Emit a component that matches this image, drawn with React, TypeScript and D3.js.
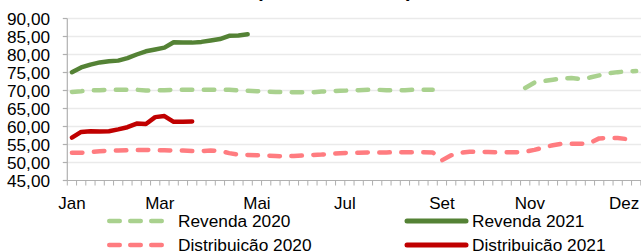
import React from "react";
import * as d3 from "d3";

const N = 62;
const NA = null;

const revenda2020: (number | null)[] = [
  69.6, 69.8, 70.1, 70.1, 70.2, 70.2, 70.2, 70.2, 70.0, 70.0,
  70.1, 70.2, 70.2, 70.2, 70.2, 70.2, 70.2, 70.2, 70.0, 69.9,
  69.8, 69.7, 69.6, 69.6, 69.5, 69.5, 69.5, 69.7, 69.8, 69.9,
  70.0, 70.1, 70.2, 70.2, 70.1, 70.1, 70.1, 70.2, 70.2, 70.2,
  NA, NA, NA, NA, NA, NA, NA, NA, NA, 70.7,
  72.2, 72.6, 73.0, 73.3, 73.5, 73.15, 73.6, 74.2, 74.8, 75.1,
  75.3, 75.4,
];

const revenda2021: number[] = [
  75.1, 76.4, 77.2, 77.8, 78.1, 78.3, 79.0, 80.0, 80.9, 81.4,
  81.9, 83.4, 83.3, 83.3, 83.5, 83.9, 84.3, 85.2, 85.3, 85.6,
];

const distribuicao2020: number[] = [
  52.7, 52.7, 52.9, 53.1, 53.3, 53.3, 53.4, 53.5, 53.5, 53.4,
  53.4, 53.3, 53.3, 53.2, 53.2, 53.3, 53.2, 52.6, 52.2, 52.1,
  52.0, 51.9, 51.8, 51.7, 51.8, 51.95, 52.1, 52.2, 52.4, 52.6,
  52.7, 52.7, 52.8, 52.8, 52.8, 52.85, 52.85, 52.85, 52.85, 52.8,
  50.6, 52.0, 52.7, 53.0, 53.0, 52.9, 52.85, 52.85, 52.85, 53.0,
  53.5, 54.2, 54.8, 55.2, 55.2, 55.2, 55.4, 56.7, 56.85, 56.8,
  56.5, 56.4,
];

const distribuicao2021: number[] = [
  56.9, 58.5, 58.7, 58.6, 58.7, 59.2, 59.8, 60.8, 60.7, 62.6,
  62.9, 61.3, 61.3, 61.4,
];

const yTicks = [45, 50, 55, 60, 65, 70, 75, 80, 85, 90];
const monthLabels = ["Jan", "Mar", "Mai", "Jul", "Set", "Nov", "Dez"];
const monthPos = [0.5, 10, 20.5, 30, 40.5, 50, 60.2];

const legendItems = [
  { name: "Revenda 2020", color: "#A9D18E", dashed: true },
  { name: "Revenda 2021", color: "#548235", dashed: false },
  { name: "Distribuição 2020", color: "#FF7C80", dashed: true },
  { name: "Distribuição 2021", color: "#C00000", dashed: false },
];

const W = 641;
const H = 251;
const FONT = "'Liberation Sans', Arial, sans-serif";

export default function App() {
  const x = d3.scaleLinear().domain([0, N]).range([67.3, 67.3 + N * 9.25]);
  const y = d3.scaleLinear().domain([45, 90]).range([180.5, 18.5]);

  const line = d3
    .line<number | null>()
    .defined((d) => d != null)
    .x((_, i) => x(i + 0.5))
    .y((d) => y(d as number));

  const fmt = (v: number) => v.toFixed(2).replace(".", ",");

  const series = [
    { data: revenda2020, ...legendItems[0] },
    { data: revenda2021, ...legendItems[1] },
    { data: distribuicao2020, ...legendItems[2] },
    { data: distribuicao2021, ...legendItems[3] },
  ];

  const legendX = [107, 404.5];
  const legendY = [221, 245];

  return (
    <div style={{ position: "absolute", left: 0, top: 0, width: W, height: H, background: "#fff" }}>
      <svg width={W} height={H} style={{ display: "block" }} fontFamily={FONT}>
        <rect x={0} y={0} width={W} height={H} fill="#fff" />
        <text x={256} y={-2.6} textAnchor="start" fontSize={20} fontWeight="bold" fill="#000">
          (média semanal)
        </text>
        {/* gridlines */}
        {yTicks.slice(1).map((t) => (
          <line key={t} x1={x(0)} x2={W} y1={y(t)} y2={y(t)} stroke="#EAEAEA" strokeWidth={1.3} />
        ))}
        {/* y axis */}
        <line x1={x(0)} x2={x(0)} y1={y(90)} y2={y(45)} stroke="#B0B0B0" strokeWidth={1.2} />
        {yTicks.map((t) => (
          <g key={t}>
            <line x1={x(0) - 4.5} x2={x(0)} y1={y(t)} y2={y(t)} stroke="#B0B0B0" strokeWidth={1.2} />
            <text x={50} y={y(t) + 6.3} textAnchor="end" fontSize={17.2} fill="#000">
              {fmt(t)}
            </text>
          </g>
        ))}
        {/* x axis */}
        <line x1={x(0)} x2={W} y1={y(45)} y2={y(45)} stroke="#B0B0B0" strokeWidth={1.2} />
        {d3.range(0, N + 1).map((i) => (
          <line key={i} x1={x(i)} x2={x(i)} y1={y(45)} y2={y(45) + 5} stroke="#B0B0B0" strokeWidth={1} />
        ))}
        {monthLabels.map((m, i) => (
          <text key={m} x={x(monthPos[i])} y={209} textAnchor="middle" fontSize={17} fill="#000">
            {m}
          </text>
        ))}
        {/* series */}
        {series.map((s) => (
          <path
            key={s.name}
            d={line(s.data) || ""}
            fill="none"
            stroke={s.color}
            strokeWidth={4.5}
            strokeLinecap="round"
            strokeLinejoin="round"
            strokeDasharray={s.dashed ? "10.5 11.5" : undefined}
          />
        ))}
        {/* legend */}
        {legendItems.map((s, i) => {
          const lx = legendX[i % 2];
          const ly = legendY[Math.floor(i / 2)];
          return (
            <g key={s.name}>
              {s.dashed ? (
                <line x1={lx + 2.25} x2={lx + 54.75} y1={ly} y2={ly} stroke={s.color} strokeWidth={4.5}
                  strokeLinecap="round" strokeDasharray="10.5 10.5" />
              ) : (
                <line x1={lx + 2.5} x2={lx + 61.5} y1={ly} y2={ly} stroke={s.color} strokeWidth={5}
                  strokeLinecap="round" />
              )}
              <text x={s.dashed ? lx + 71 : lx + 67.5} y={ly + 6.2} fontSize={17.3} fill="#000">
                {s.name}
              </text>
            </g>
          );
        })}
      </svg>
    </div>
  );
}
